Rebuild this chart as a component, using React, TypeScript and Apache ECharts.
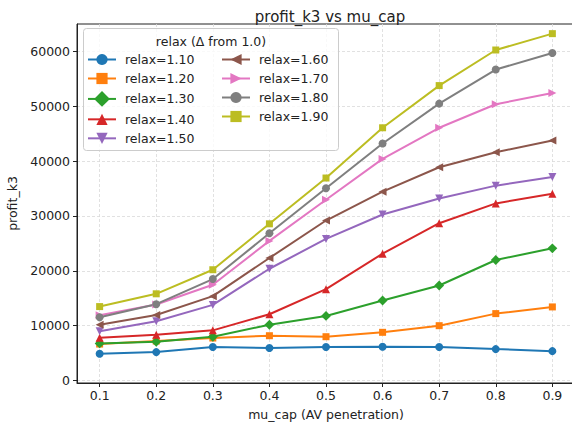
import React, { useEffect, useRef } from "react";
import * as echarts from "echarts";

const muCap = [0.1, 0.2, 0.3, 0.4, 0.5, 0.6, 0.7, 0.8, 0.9];
const xTicks = [0.1, 0.2, 0.3, 0.4, 0.5, 0.6, 0.7, 0.8, 0.9];
const yTicks = [0, 10000, 20000, 30000, 40000, 50000, 60000];

const relax110 = [4870, 5180, 6100, 5920, 6100, 6150, 6120, 5730, 5360];
const relax120 = [6650, 7200, 7750, 8170, 7990, 8790, 10000, 12200, 13420];
const relax130 = [6770, 7070, 7990, 10180, 11780, 14580, 17330, 21970, 24100];
const relax140 = [7800, 8350, 9150, 12080, 16660, 23130, 28680, 32290, 34060];
const relax150 = [8970, 10800, 13790, 20380, 25820, 30270, 33200, 35530, 37100];
const relax160 = [10180, 11960, 15380, 22340, 29170, 34430, 38880, 41630, 43770];
const relax170 = [11900, 13850, 17450, 25460, 32970, 40400, 46080, 50370, 52430];
const relax180 = [11540, 13920, 18500, 26850, 35040, 43220, 50480, 56700, 59710];
const relax190 = [13480, 15810, 20200, 28570, 36920, 46080, 53770, 60260, 63240];

const seriesNames = [
  "relax=1.10", "relax=1.20", "relax=1.30", "relax=1.40", "relax=1.50",
  "relax=1.60", "relax=1.70", "relax=1.80", "relax=1.90",
];
const seriesValues = [relax110, relax120, relax130, relax140, relax150, relax160, relax170, relax180, relax190];
const colors = ["#1f77b4", "#ff7f0e", "#2ca02c", "#d62728", "#9467bd", "#8c564b", "#e377c2", "#7f7f7f", "#bcbd22"];
const symbols = ["circle", "rect", "rect", "triangle", "triangle", "triangle", "triangle", "circle", "rect"];
const rotations = [0, 0, 45, 0, 180, 90, -90, 0, 0];
const sizes = [8, 7, 7, 8, 8, 8, 8, 8, 7];

const FONT = "DejaVu Sans";

export default function App() {
  const ref = useRef<HTMLDivElement>(null);
  useEffect(() => {
    if (!ref.current) return;
    const chart = echarts.init(ref.current, null, { renderer: "svg" });
    const series = seriesNames.map((name, i) => ({
      name,
      type: "line",
      data: muCap.map((x, j) => [x, seriesValues[i][j]]),
      symbol: symbols[i],
      symbolSize: sizes[i],
      symbolRotate: rotations[i],
      showAllSymbol: true,
      lineStyle: { color: colors[i], width: 2 },
      itemStyle: { color: colors[i], borderWidth: 0 },
      emphasis: { disabled: true },
    }));
    const legendCommon = {
      orient: "vertical",
      itemWidth: 28,
      itemHeight: 14,
      itemGap: 6,
      padding: 0,
      textStyle: { fontFamily: FONT, fontSize: 12.5, color: "#222", padding: [0, 0, 0, 4] },
      selectedMode: false,
    };
    chart.setOption({
      animation: false,
      color: colors,
      title: {
        text: "profit_k3 vs mu_cap",
        left: 325,
        top: 4,
        textAlign: "center",
        textStyle: { fontFamily: FONT, fontSize: 15, fontWeight: "normal", color: "#222" },
      },
      grid: {
        left: 77, top: 24, width: 498, height: 359,
        outerBoundsMode: "none",
        containLabel: false,
        show: true, borderColor: "#222", borderWidth: 1, backgroundColor: "transparent",
      },
      xAxis: {
        type: "value",
        min: 0.06,
        max: 0.94,
        name: "mu_cap (AV penetration)",
        nameLocation: "middle",
        nameGap: 25,
        nameTextStyle: { fontFamily: FONT, fontSize: 12.5, color: "#222" },
        axisLine: { onZero: false, lineStyle: { color: "#222", width: 1 } },
        axisTick: { customValues: xTicks, length: 4, lineStyle: { color: "#222" } },
        axisLabel: {
          customValues: xTicks,
          formatter: (v: number) => v.toFixed(1),
          fontFamily: FONT,
          fontSize: 12.5,
          color: "#222",
          margin: 6,
        },
        splitLine: { show: true, lineStyle: { color: "#d9d9d9", type: [3, 2], width: 0.8 } },
      },
      yAxis: {
        type: "value",
        min: -450,
        max: 65000,
        name: "profit_k3",
        nameLocation: "middle",
        nameGap: 55,
        nameTextStyle: { fontFamily: FONT, fontSize: 12.5, color: "#222" },
        axisLine: { show: true, lineStyle: { color: "#222", width: 1 } },
        axisTick: { show: true, customValues: yTicks, length: 4, lineStyle: { color: "#222" } },
        axisLabel: {
          customValues: yTicks,
          formatter: (v: number) => String(Math.round(v)),
          fontFamily: FONT,
          fontSize: 12.5,
          color: "#222",
          margin: 7,
        },
        splitLine: { show: true, lineStyle: { color: "#d9d9d9", type: [3, 2], width: 0.8 } },
      },
      legend: [
        { ...legendCommon, left: 87, top: 53, data: seriesNames.slice(0, 5) },
        { ...legendCommon, left: 221, top: 53, data: seriesNames.slice(5) },
      ],
      graphic: [
        {
          type: "rect",
          shape: { x: 83.5, y: 28.5, width: 255, height: 122, r: 3 },
          style: { fill: "rgba(255,255,255,0.8)", stroke: "#cccccc", lineWidth: 1 },
          z: 3,
          silent: true,
        },
        {
          type: "text",
          x: 211,
          y: 41,
          style: {
            text: "relax (Δ from 1.0)",
            fontFamily: FONT,
            fontSize: 12.5,
            fill: "#222",
            align: "center",
            verticalAlign: "middle",
          },
          z: 4,
        },
      ],
      series,
    });
    return () => chart.dispose();
  }, []);
  return (
    <div
      ref={ref}
      style={{ position: "absolute", left: 0, top: 0, width: 572, height: 428, background: "#fff" }}
    />
  );
}
